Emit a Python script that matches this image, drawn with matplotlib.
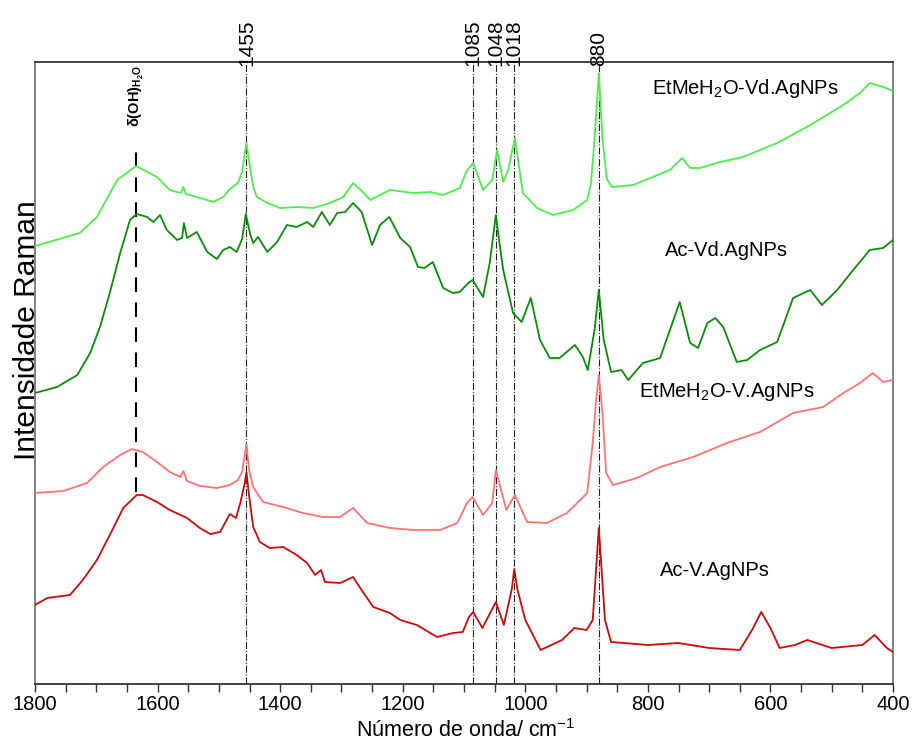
import matplotlib
matplotlib.use("Agg")
import matplotlib.pyplot as plt
import matplotlib.transforms as mtransforms
from matplotlib import font_manager
import numpy as np

# ---- data (wavenumber cm-1, intensity a.u.) ----
w_etvd = [1800, 1727, 1699, 1666, 1635, 1601, 1580, 1562, 1558, 1554, 1536, 1509, 1493, 1482, 1469,
          1462, 1458, 1455, 1452, 1448, 1443, 1438, 1421, 1400, 1373, 1346, 1319, 1297, 1281, 1265,
          1253, 1221, 1183, 1155, 1134, 1107, 1095, 1085, 1069, 1054, 1046, 1036, 1028, 1017, 1004,
          981, 955, 922, 899, 893, 887, 880, 874, 867, 859, 824, 792, 764, 744, 731, 715, 682, 645,
          589, 535, 481, 454, 438, 416, 400]
i_etvd = [438, 451, 467, 504, 518, 507, 494, 491, 497, 490, 487, 482, 487, 495, 501,
          512, 530, 541, 528, 512, 495, 487, 481, 476, 477, 476, 481, 487, 501, 492,
          484, 494, 491, 492, 489, 496, 514, 521, 494, 504, 534, 502, 514, 546, 491,
          476, 469, 474, 484, 500, 545, 611, 545, 505, 497, 499, 507, 514, 526, 516, 516, 522, 527,
          541, 559, 579, 591, 601, 597, 593]

w_acvd = [1800, 1764, 1731, 1710, 1694, 1678, 1661, 1645, 1634, 1617, 1607, 1596, 1585, 1568, 1560,
          1557, 1552, 1536, 1519, 1503, 1493, 1482, 1471, 1462, 1456, 1449, 1444, 1436, 1421, 1405,
          1389, 1373, 1356, 1346, 1332, 1319, 1307, 1294, 1281, 1267, 1250, 1237, 1222, 1204, 1188,
          1175, 1164, 1151, 1134, 1118, 1107, 1093, 1086, 1069, 1058, 1052, 1048, 1043, 1036, 1020,
          1006, 991, 976, 960, 944, 919, 906, 898, 887, 880, 872, 860, 843, 832, 808, 780, 764, 748,
          731, 718, 703, 690, 677, 655, 638, 617, 589, 563, 535, 516, 491, 465, 438, 416, 400]
i_acvd = [291, 297, 309, 331, 357, 391, 431, 464, 470, 467, 462, 469, 454, 444, 446,
          461, 446, 452, 432, 425, 434, 437, 432, 445, 470, 450, 441, 447, 432, 442,
          459, 457, 462, 457, 472, 459, 471, 472, 481, 472, 439, 459, 467, 446, 437,
          417, 416, 422, 396, 391, 392, 401, 404, 387, 421, 450, 469, 445, 414, 371,
          362, 386, 344, 326, 326, 339, 327, 314, 354, 394, 344, 312, 314, 304, 321, 326, 354, 382,
          341, 336, 361, 366, 357, 322, 324, 334, 342, 386, 394, 379, 394, 414, 434, 436, 444]

w_etv = [1800, 1754, 1715, 1689, 1661, 1642, 1624, 1601, 1580, 1563, 1558, 1552, 1531, 1503, 1482,
         1469, 1462, 1458, 1455, 1451, 1444, 1428, 1395, 1363, 1330, 1302, 1281, 1258, 1221, 1183,
         1139, 1111, 1095, 1086, 1069, 1054, 1048, 1031, 1017, 997, 965, 932, 899, 890, 885, 880,
         874, 868, 857, 818, 780, 726, 671, 617, 563, 514, 481, 454, 433, 416, 400]
i_etv = [191, 193, 201, 217, 229, 235, 232, 222, 212, 207, 213, 203, 198, 196, 199,
         204, 212, 228, 240, 215, 197, 182, 177, 171, 167, 167, 176, 161, 156, 154,
         154, 161, 181, 187, 169, 181, 214, 174, 189, 162, 161, 171, 191, 241, 280, 309,
         270, 211, 199, 206, 217, 227, 241, 252, 271, 277, 291, 301, 311, 302, 304]

w_acv = [1800, 1780, 1743, 1722, 1699, 1678, 1656, 1634, 1624, 1601, 1580, 1552, 1531, 1514, 1498,
         1482, 1472, 1465, 1458, 1455, 1451, 1444, 1433, 1417, 1395, 1373, 1356, 1343, 1333, 1327,
         1302, 1281, 1265, 1248, 1221, 1204, 1177, 1144, 1118, 1102, 1092, 1085, 1070, 1048, 1035,
         1022, 1018, 1013, 1000, 975, 940, 920, 900, 890, 885, 880, 875, 870, 860, 800, 750, 700,
         650, 630, 615, 600, 585, 560, 540, 500, 450, 430, 410, 400]
i_acv = [79, 86, 89, 104, 124, 149, 176, 189, 189, 182, 174, 166, 156, 150, 152,
         170, 166, 181, 200, 212, 190, 157, 142, 136, 137, 129, 121, 109, 114, 102,
         101, 107, 92, 77, 71, 64, 59, 47, 51, 52, 67, 72, 56, 82, 59,
         95, 115, 95, 64, 34, 44, 56, 54, 64, 110, 156, 110, 64, 42, 39, 41, 36,
         34, 54, 72, 56, 36, 39, 44, 36, 39, 49, 36, 32]

series_names = ["EtMeH$_\\mathregular{2}$O-Vd.AgNPs", "Ac-Vd.AgNPs",
                "EtMeH$_\\mathregular{2}$O-V.AgNPs", "Ac-V.AgNPs"]
series_colors = ["#4cee4c", "#0a8c0a", "#ff7272", "#cc0a0a"]
label_pos_w = [641, 671, 671, 690]
label_pos_i = [596, 434, 292, 114]

marker_peaks = [1455, 1085, 1048, 1018, 880]
marker_labels = ["1455", "1085", "1048", "1018", "880"]
water_band = 1635
water_span = [192, 541]

xticks_major = [1800, 1600, 1400, 1200, 1000, 800, 600, 400]

# ---- fonts ----
plt.rcParams['font.family'] = ['Liberation Sans', 'DejaVu Sans']
plt.rcParams['mathtext.fontset'] = 'custom'
plt.rcParams['mathtext.rm'] = 'Liberation Sans'
plt.rcParams['mathtext.bf'] = 'Liberation Sans:bold'
try:
    font_manager.findfont('Liberation Sans Narrow', fallback_to_default=False)
    narrow, tick_fs, xlab_fs = ['Liberation Sans Narrow', 'Liberation Sans'], 17, 17
except Exception:
    narrow, tick_fs, xlab_fs = ['Liberation Sans', 'DejaVu Sans'], 14.5, 15.5

# ---- plot ----
fig = plt.figure(figsize=(9.14, 7.42), dpi=100)
ax = fig.add_axes([35/914, 1-684/742, (893-35)/914, (684-62)/742])

for wv, iv, c in zip([w_etvd, w_acvd, w_etv, w_acv], [i_etvd, i_acvd, i_etv, i_acv], series_colors):
    ax.plot(wv, iv, color=c, lw=1.3, zorder=3)

for n, xw, yi in zip(series_names, label_pos_w, label_pos_i):
    ax.text(xw, yi, n, fontsize=14.5, ha='center', va='center', color='black')

trans = mtransforms.blended_transform_factory(ax.transData, ax.transAxes)
for p, lab in zip(marker_peaks, marker_labels):
    ax.axvline(p, color='#222222', lw=0.8, ls='-.', zorder=2)
    ax.text(p, 0.993, lab, rotation=90, transform=trans, ha='center', va='bottom',
            fontsize=15, clip_on=False)

ax.plot([water_band, water_band], water_span, color='black', lw=1.5, ls=(0, (7, 5)), zorder=2)
ax.text(water_band, 0.995, r'δ(OH)$_{\mathbf{H_2O}}$', rotation=90, transform=trans,
        ha='center', va='top', fontsize=10.5, fontweight='bold')

ax.set_xlim(1800, 400)
ax.set_ylim(0, 622)
ax.set_xticks(xticks_major)
ax.set_xticks(np.arange(400, 1801, 50), minor=True)
ax.tick_params(axis='x', which='both', direction='out', length=6, width=1, color='#333333', pad=2)
ax.set_yticks([])
for lab in ax.get_xticklabels():
    lab.set_family(narrow)
    lab.set_fontsize(tick_fs)

fig.text(466/914, 1-731/742, 'Número de onda/ cm$^{\\mathregular{-1}}$', family=narrow,
         fontsize=xlab_fs, ha='center', va='center')
fig.text(27/914, 1-330/742, 'Intensidade Raman', rotation=90, fontsize=21.5,
         ha='center', va='center')

for s in ['left', 'right']:
    ax.spines[s].set_color('#777777')
    ax.spines[s].set_linewidth(1.3)
for s in ['top', 'bottom']:
    ax.spines[s].set_color('#333333')
    ax.spines[s].set_linewidth(1.3)

fig.savefig('out.png', dpi=100)
